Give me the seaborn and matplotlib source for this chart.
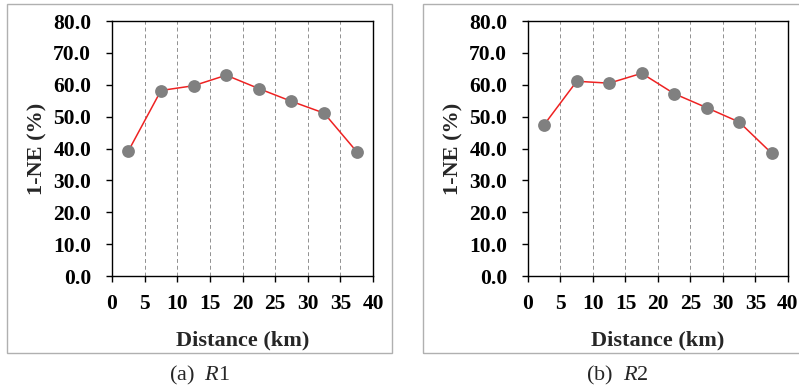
import numpy as np
import pandas as pd
import matplotlib
matplotlib.use("Agg")
import matplotlib.pyplot as plt
import seaborn as sns
from matplotlib.patches import Rectangle

# dados
distancia = [2.5, 7.5, 12.5, 17.5, 22.5, 27.5, 32.5, 37.5]
r1 = [39.2, 58.2, 59.7, 63.0, 58.8, 54.8, 51.1, 39.0]
r2 = [47.5, 61.1, 60.5, 63.6, 57.2, 52.8, 48.3, 38.5]
legendas = ["(a)  $\\mathit{R}$1", "(b)  $\\mathit{R}$2"]

sns.set_style("ticks")
plt.rcParams["font.family"] = ["Liberation Serif", "DejaVu Serif"]
plt.rcParams["mathtext.fontset"] = "custom"
plt.rcParams["mathtext.rm"] = "Liberation Serif"
plt.rcParams["mathtext.it"] = "Liberation Serif:italic"

fig = plt.figure(figsize=(7.99, 3.9), dpi=100)

paineis = [
    (r1, [0.1402, 0.2923, 0.3267, 0.6538], [0.0088, 0.0949, 0.4819, 0.8949], 0.25),
    (r2, [0.6608, 0.2923, 0.3254, 0.6538], [0.5294, 0.0949, 0.4800, 0.8949], 0.772),
]

for i, (valores, pos, caixa, xcap) in enumerate(paineis):
    # moldura cinza em volta de cada painel
    fig.patches.append(Rectangle((caixa[0], caixa[1]), caixa[2], caixa[3],
                                 transform=fig.transFigure, fill=False,
                                 edgecolor="#b0b0b0", linewidth=1.0))
    ax = fig.add_axes(pos)
    df = pd.DataFrame({"dist": distancia, "val": valores})
    sns.lineplot(data=df, x="dist", y="val", color="#ee2222", linewidth=1.1, ax=ax)
    sns.scatterplot(data=df, x="dist", y="val", color="#808080", s=85,
                    edgecolor="#808080", linewidth=0, zorder=3, ax=ax)
    ax.set_xlim(0, 40)
    ax.set_ylim(0, 80)
    ax.set_xticks(range(0, 41, 5))
    ax.set_yticks(range(0, 81, 10))
    ax.set_yticklabels([f"{v:.1f}" for v in range(0, 81, 10)])
    for x in range(5, 40, 5):
        ax.axvline(x, color="#909090", linestyle=(0, (4, 3)), linewidth=0.7, zorder=0)
    for s in ax.spines.values():
        s.set_visible(True)
        s.set_color("black")
        s.set_linewidth(1.0)
    ax.tick_params(axis="both", direction="out", length=4, width=1, labelsize=15.5,
                   colors="black")
    ax.tick_params(axis="x", pad=9)
    ax.tick_params(axis="y", pad=11)
    for lab in ax.get_xticklabels() + ax.get_yticklabels():
        lab.set_fontweight("bold")
    ax.set_xlabel("Distance (km)", fontsize=16, fontweight="bold", labelpad=12)
    ax.set_ylabel("1-NE (%)", fontsize=16, fontweight="bold", labelpad=4)
    fig.text(xcap, 0.036, legendas[i], ha="center", va="center", fontsize=16)

fig.savefig("out.png", dpi=100)
